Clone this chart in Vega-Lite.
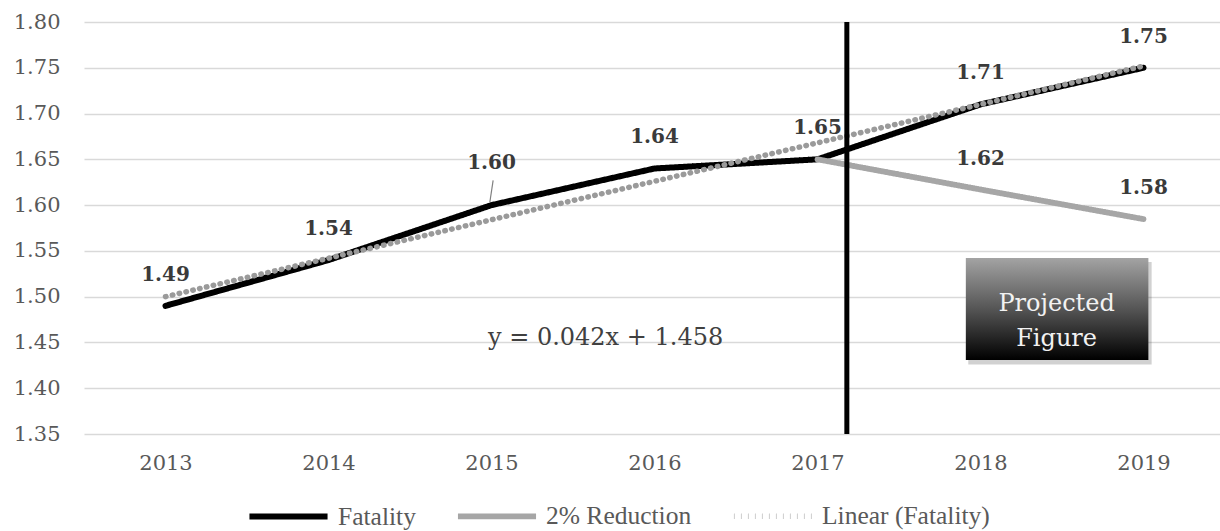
{
  "$schema": "https://vega.github.io/schema/vega-lite/v6.json",
  "width": 1141,
  "height": 412,
  "autosize": {"type": "none"},
  "padding": {"left": 84, "top": 22, "right": 0, "bottom": 97},
  "background": "white",
  "config": {
    "view": {"stroke": null},
    "font": "DejaVu Serif",
    "legend": {
      "orient": "none",
      "legendX": 162,
      "legendY": 452,
      "direction": "horizontal",
      "title": null,
      "symbolType": "stroke",
      "symbolSize": 6100,
      "labelFont": "Liberation Serif",
      "labelFontSize": 25.5,
      "labelColor": "#595959",
      "labelOffset": 7,
      "columnPadding": 30,
      "labelLimit": 400
    }
  },
  "datasets": {
    "series": [
      {"year": 2013, "value": 1.49, "series": "Fatality"},
      {"year": 2014, "value": 1.54, "series": "Fatality"},
      {"year": 2015, "value": 1.60, "series": "Fatality"},
      {"year": 2016, "value": 1.64, "series": "Fatality"},
      {"year": 2017, "value": 1.65, "series": "Fatality"},
      {"year": 2018, "value": 1.71, "series": "Fatality"},
      {"year": 2019, "value": 1.75, "series": "Fatality"},
      {"year": 2017, "value": 1.65, "series": "2% Reduction"},
      {"year": 2018, "value": 1.617, "series": "2% Reduction"},
      {"year": 2019, "value": 1.5847, "series": "2% Reduction"},
      {"year": 2013, "value": 1.500, "series": "Linear (Fatality)"},
      {"year": 2019, "value": 1.752, "series": "Linear (Fatality)"}
    ]
  },
  "layer": [
    {
      "data": {"name": "series"},
      "mark": {"type": "line", "strokeCap": "round", "strokeJoin": "round"},
      "encoding": {
        "x": {
          "field": "year", "type": "quantitative",
          "scale": {"domain": [2012.5, 2019.5], "nice": false, "zero": false},
          "axis": {
            "title": null, "values": [2013, 2014, 2015, 2016, 2017, 2018, 2019],
            "format": "d", "grid": false, "domain": false, "ticks": false,
            "labelPadding": 18, "labelFontSize": 21, "labelColor": "#595959",
            "labelFont": "DejaVu Serif", "labelFlush": false
          }
        },
        "y": {
          "field": "value", "type": "quantitative",
          "scale": {"domain": [1.35, 1.80], "nice": false, "zero": false},
          "axis": {
            "title": null, "values": [1.35, 1.40, 1.45, 1.50, 1.55, 1.60, 1.65, 1.70, 1.75, 1.80],
            "format": ".2f", "grid": true, "gridColor": "#d9d9d9", "gridWidth": 1.5,
            "domain": false, "ticks": false, "labelPadding": 24,
            "labelFontSize": 21, "labelColor": "#595959", "labelFont": "DejaVu Serif"
          }
        },
        "color": {
          "field": "series", "type": "nominal", "title": null,
          "scale": {"domain": ["Fatality", "2% Reduction", "Linear (Fatality)"], "range": ["#000000", "#a6a6a6", "#9a9a9a"]}
        },
        "strokeDash": {
          "field": "series", "type": "nominal", "title": null,
          "scale": {"domain": ["Fatality", "2% Reduction", "Linear (Fatality)"], "range": [[1, 0], [1, 0], [0.5, 6.5]]}
        },
        "strokeWidth": {
          "field": "series", "type": "nominal", "title": null,
          "scale": {"domain": ["Fatality", "2% Reduction", "Linear (Fatality)"], "range": [6, 5.5, 3]}
        }
      }
    },
    {
      "data": {"name": "series"},
      "transform": [
        {"filter": "(datum.series == 'Fatality' && datum.year != 2015) || (datum.series == '2% Reduction' && datum.year > 2017)"}
      ],
      "mark": {"type": "text", "dy": -31, "fontSize": 20, "fontWeight": "bold", "color": "#3a3a3a", "font": "DejaVu Serif", "baseline": "middle"},
      "encoding": {
        "x": {"field": "year", "type": "quantitative"},
        "y": {"field": "value", "type": "quantitative"},
        "text": {"field": "value", "type": "quantitative", "format": ".2f"}
      }
    },
    {
      "data": {"name": "series"},
      "transform": [{"filter": "datum.series == 'Fatality' && datum.year == 2015"}],
      "mark": {"type": "text", "dy": -42, "fontSize": 20, "fontWeight": "bold", "color": "#3a3a3a", "font": "DejaVu Serif", "baseline": "middle"},
      "encoding": {
        "x": {"field": "year", "type": "quantitative"},
        "y": {"field": "value", "type": "quantitative"},
        "text": {"field": "value", "type": "quantitative", "format": ".2f"}
      }
    },
    {
      "data": {"values": [{}]},
      "mark": {"type": "rule", "color": "#808080", "strokeWidth": 1.2},
      "encoding": {
        "x": {"datum": 2014.99, "type": "quantitative"},
        "x2": {"datum": 2015.01},
        "y": {"datum": 1.6034, "type": "quantitative"},
        "y2": {"datum": 1.627}
      }
    },
    {
      "data": {"values": [{}]},
      "mark": {"type": "rule", "color": "#000000", "strokeWidth": 5},
      "encoding": {
        "x": {"datum": 2017.18, "type": "quantitative"},
        "y": {"datum": 1.80, "type": "quantitative"},
        "y2": {"datum": 1.35}
      }
    },
    {
      "data": {"values": [{}]},
      "mark": {"type": "rect", "color": "#000000", "opacity": 0.18},
      "encoding": {
        "x": {"datum": 2017.925, "type": "quantitative"},
        "x2": {"datum": 2019.05},
        "y": {"datum": 1.538, "type": "quantitative"},
        "y2": {"datum": 1.426}
      }
    },
    {
      "data": {"values": [{}]},
      "mark": {
        "type": "rect",
        "color": {
          "gradient": "linear", "x1": 0, "y1": 0, "x2": 0, "y2": 1,
          "stops": [{"offset": 0, "color": "#a3a3a3"}, {"offset": 0.5, "color": "#555555"}, {"offset": 1, "color": "#000000"}]
        }
      },
      "encoding": {
        "x": {"datum": 2017.91, "type": "quantitative"},
        "x2": {"datum": 2019.03},
        "y": {"datum": 1.5422, "type": "quantitative"},
        "y2": {"datum": 1.4308}
      }
    },
    {
      "data": {"values": [{}]},
      "mark": {
        "type": "text", "text": ["Projected", "Figure"], "lineHeight": 35,
        "fontSize": 24, "color": "#f2f2f2", "font": "DejaVu Serif",
        "align": "center", "baseline": "middle"
      },
      "encoding": {
        "x": {"datum": 2018.467, "type": "quantitative"},
        "y": {"datum": 1.492, "type": "quantitative"}
      }
    },
    {
      "data": {"values": [{}]},
      "mark": {
        "type": "text", "text": "y = 0.042x + 1.458",
        "fontSize": 24, "color": "#404040", "font": "DejaVu Serif",
        "align": "center", "baseline": "middle"
      },
      "encoding": {
        "x": {"datum": 2015.70, "type": "quantitative"},
        "y": {"datum": 1.455, "type": "quantitative"}
      }
    }
  ]
}
